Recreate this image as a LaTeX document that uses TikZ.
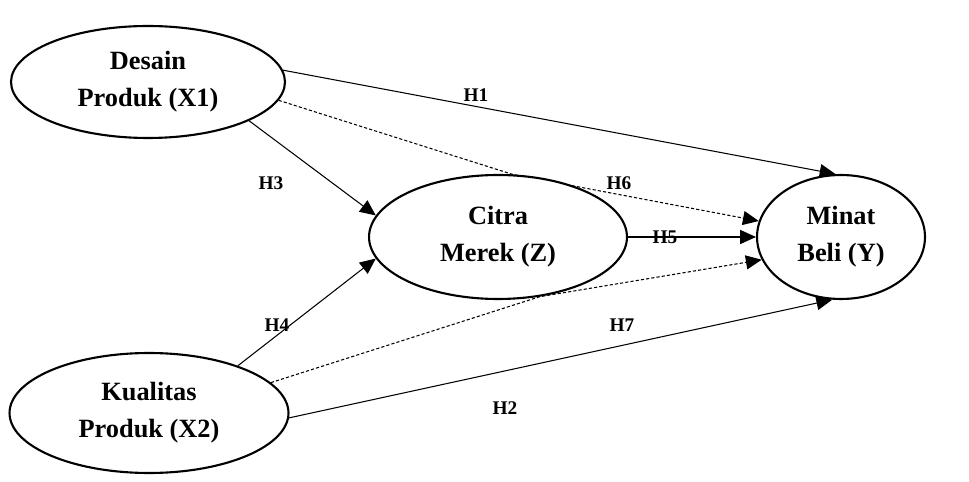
\documentclass[tikz,border=0pt]{standalone}
\usepackage{fontspec}
\setmainfont{Liberation Serif}
\usepackage{tikz}
\usetikzlibrary{positioning, shapes.geometric, arrows.meta, backgrounds}

\tikzset{
  var/.style={ellipse, draw, line width=1.2pt, fill=white, inner sep=0pt, align=center,
    font=\fontsize{15}{21}\selectfont\bfseries},
  hypo/.style={line width=0.6pt, -{Triangle[length=9pt, width=8pt]}},
  hypodash/.style={hypo, dash pattern=on 1.8pt off 1.2pt},
  hlabel/.style={font=\fontsize{11}{13}\selectfont\bfseries, inner sep=0pt}
}

\begin{document}
\begin{tikzpicture}[x=0.02cm, y=-0.02cm]
        \useasboundingbox (0,0) rectangle (969,482);
        % Latent variables
        \node[var, minimum width=5.48cm, minimum height=2.24cm] (x1) at (148,82)  {Desain\\Produk (X1)};
        \node[var, minimum width=5.58cm, minimum height=2.40cm] (x2) at (149,413) {Kualitas\\Produk (X2)};
        \node[var, minimum width=5.16cm, minimum height=2.48cm] (z)  at (498,237) {Citra\\Merek (Z)};
        \node[var, minimum width=3.36cm, minimum height=2.48cm] (y)  at (841,237) {Minat\\Beli (Y)};
        % Paths (behind the ellipses)
        \begin{scope}[on background layer]
          \draw[hypo] (x1.5) -- (y.95);           % H1
          \draw[hypo] (x2.-2) -- (y.262);         % H2 / H7
          \draw[hypo] (x1.-21) -- (z.170);        % H3
          \draw[hypo] (x2.28) -- (z.190);         % H4
          \draw[hypo] (z.east) -- (y.west);       % H5
          \draw[hypodash] (x1.-8) -- (z.77) -- (y.169);   % H6, via Z
          \draw[hypodash] (x2.14) -- (z.-55) -- (y.196);  % via Z
        \end{scope}
        % Hypothesis labels
        \node[hlabel] (h1) at (476,95)  {H1};
        \node[hlabel] (h2) at (505,408) {H2};
        \node[hlabel] (h3) at (271,183) {H3};
        \node[hlabel] (h4) at (277,325) {H4};
        \node[hlabel] (h5) at (665,237) {H5};
        \node[hlabel] (h6) at (619,183) {H6};
        \node[hlabel] (h7) at (622,325) {H7};
\end{tikzpicture}
\end{document}
